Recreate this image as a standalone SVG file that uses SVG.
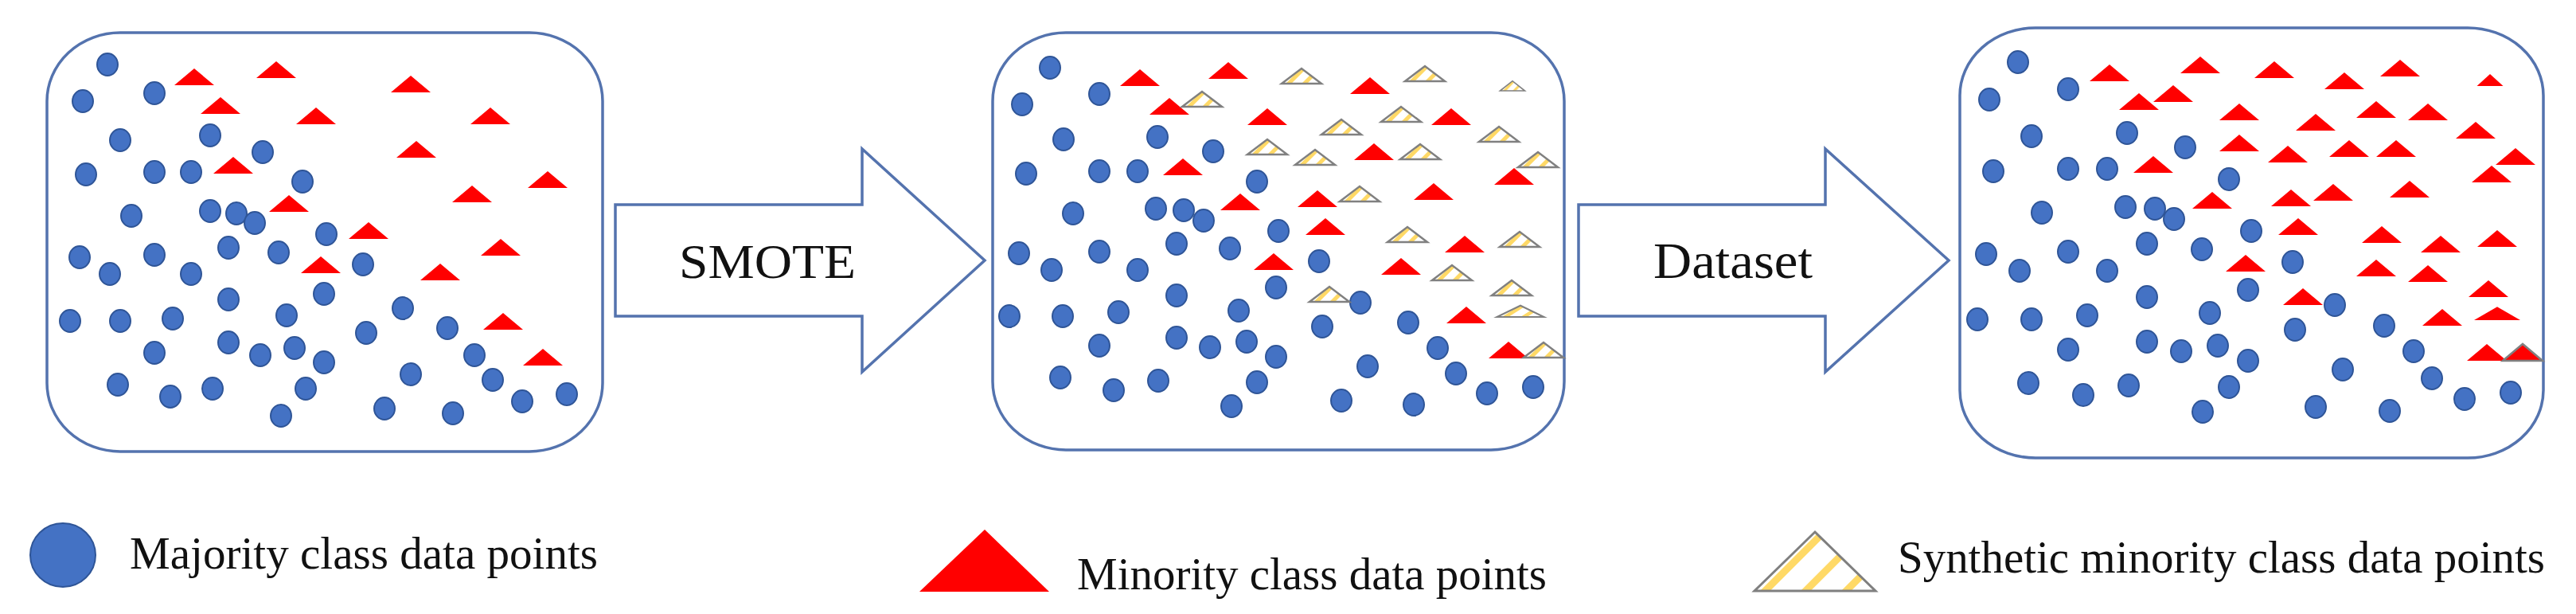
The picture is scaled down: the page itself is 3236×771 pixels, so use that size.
<svg xmlns="http://www.w3.org/2000/svg" xmlns:xlink="http://www.w3.org/1999/xlink" width="3236" height="771" viewBox="0 0 3236 771">
<style>
.box{fill:#fff;stroke:#5473AE;stroke-width:3.5}
.arrow{fill:#fff;stroke:#5473AE;stroke-width:3.5;stroke-linejoin:miter}
.lbl{font-family:"Liberation Serif","Times New Roman",serif;fill:#111}
.dots use{fill:#4472C4;stroke:#2F5597;stroke-width:2}
.reds use{fill:#FF0000}
.syns use{fill:url(#stripesS);stroke:#808080;stroke-width:2.5}
</style>
<defs>
<ellipse id="dot" cx="0" cy="0" rx="13" ry="14"/>
<path id="tri" d="M-25,0 L0,-21 L25,0 Z"/>
<path id="syn" d="M-25,0 L0,-19 L25,0 Z"/>
<pattern id="stripesS" patternUnits="userSpaceOnUse" width="14" height="14" patternTransform="rotate(45)">
<rect width="14" height="14" fill="#fff"/><rect width="5" height="14" fill="#FFD966"/>
</pattern>
<pattern id="stripesL" patternUnits="userSpaceOnUse" width="36" height="36" patternTransform="rotate(45)">
<rect width="36" height="36" fill="#fff"/><rect width="9" height="36" fill="#FFD966"/>
</pattern>
</defs>
<rect width="3236" height="771" fill="#fff"/>

<g id="panel1">
<rect class="box" x="59" y="41" width="698" height="526" rx="92" ry="86"/>
<g class="dots">
<use href="#dot" x="135" y="81"/><use href="#dot" x="104" y="127"/><use href="#dot" x="194" y="117"/><use href="#dot" x="151" y="176"/><use href="#dot" x="264" y="170"/><use href="#dot" x="330" y="191"/><use href="#dot" x="108" y="219"/><use href="#dot" x="194" y="216"/><use href="#dot" x="240" y="216"/><use href="#dot" x="380" y="228"/><use href="#dot" x="165" y="271"/><use href="#dot" x="264" y="265"/><use href="#dot" x="297" y="268"/><use href="#dot" x="320" y="280"/><use href="#dot" x="410" y="294"/><use href="#dot" x="100" y="323"/><use href="#dot" x="194" y="320"/><use href="#dot" x="287" y="311"/><use href="#dot" x="350" y="317"/><use href="#dot" x="138" y="344"/><use href="#dot" x="240" y="344"/><use href="#dot" x="456" y="332"/><use href="#dot" x="407" y="369"/><use href="#dot" x="287" y="376"/><use href="#dot" x="506" y="387"/><use href="#dot" x="88" y="403"/><use href="#dot" x="151" y="403"/><use href="#dot" x="217" y="400"/><use href="#dot" x="360" y="396"/><use href="#dot" x="460" y="418"/><use href="#dot" x="562" y="412"/><use href="#dot" x="287" y="430"/><use href="#dot" x="194" y="443"/><use href="#dot" x="327" y="446"/><use href="#dot" x="370" y="437"/><use href="#dot" x="407" y="455"/><use href="#dot" x="596" y="446"/><use href="#dot" x="516" y="470"/><use href="#dot" x="619" y="477"/><use href="#dot" x="148" y="483"/><use href="#dot" x="214" y="498"/><use href="#dot" x="267" y="488"/><use href="#dot" x="384" y="488"/><use href="#dot" x="712" y="495"/><use href="#dot" x="656" y="504"/><use href="#dot" x="353" y="522"/><use href="#dot" x="483" y="513"/><use href="#dot" x="569" y="519"/>
</g>
<g class="reds">
<use href="#tri" x="244" y="107"/><use href="#tri" x="347" y="98"/><use href="#tri" x="516" y="116"/><use href="#tri" x="277" y="143"/><use href="#tri" x="397" y="156"/><use href="#tri" x="616" y="156"/><use href="#tri" x="523" y="198"/><use href="#tri" x="293" y="218"/><use href="#tri" x="688" y="236"/><use href="#tri" x="593" y="254"/><use href="#tri" x="363" y="266"/><use href="#tri" x="463" y="300"/><use href="#tri" x="629" y="321"/><use href="#tri" x="403" y="343"/><use href="#tri" x="553" y="352"/><use href="#tri" x="632" y="414"/><use href="#tri" x="682" y="459"/>
</g>
</g>

<g id="panel2">
<rect class="box" x="1247" y="41" width="718" height="524" rx="92" ry="86"/>
<g class="dots">
<use href="#dot" x="1319" y="85"/><use href="#dot" x="1284" y="131"/><use href="#dot" x="1381" y="118"/><use href="#dot" x="1336" y="175"/><use href="#dot" x="1454" y="172"/><use href="#dot" x="1524" y="190"/><use href="#dot" x="1289" y="218"/><use href="#dot" x="1381" y="215"/><use href="#dot" x="1429" y="215"/><use href="#dot" x="1579" y="228"/><use href="#dot" x="1348" y="268"/><use href="#dot" x="1452" y="262"/><use href="#dot" x="1487" y="264"/><use href="#dot" x="1512" y="277"/><use href="#dot" x="1606" y="290"/><use href="#dot" x="1280" y="318"/><use href="#dot" x="1381" y="316"/><use href="#dot" x="1478" y="306"/><use href="#dot" x="1545" y="312"/><use href="#dot" x="1321" y="339"/><use href="#dot" x="1429" y="339"/><use href="#dot" x="1657" y="328"/><use href="#dot" x="1603" y="361"/><use href="#dot" x="1478" y="371"/><use href="#dot" x="1709" y="380"/><use href="#dot" x="1268" y="397"/><use href="#dot" x="1335" y="397"/><use href="#dot" x="1405" y="392"/><use href="#dot" x="1556" y="390"/><use href="#dot" x="1661" y="410"/><use href="#dot" x="1769" y="405"/><use href="#dot" x="1478" y="424"/><use href="#dot" x="1381" y="434"/><use href="#dot" x="1520" y="436"/><use href="#dot" x="1566" y="429"/><use href="#dot" x="1603" y="448"/><use href="#dot" x="1806" y="437"/><use href="#dot" x="1718" y="460"/><use href="#dot" x="1829" y="469"/><use href="#dot" x="1332" y="474"/><use href="#dot" x="1399" y="490"/><use href="#dot" x="1455" y="478"/><use href="#dot" x="1579" y="480"/><use href="#dot" x="1926" y="486"/><use href="#dot" x="1868" y="494"/><use href="#dot" x="1547" y="510"/><use href="#dot" x="1685" y="503"/><use href="#dot" x="1776" y="508"/>
</g>
<g class="reds">
<use href="#tri" x="1432" y="108"/><use href="#tri" x="1543" y="99"/><use href="#tri" x="1721" y="118"/><use href="#tri" x="1469" y="144"/><use href="#tri" x="1592" y="157"/><use href="#tri" x="1823" y="157"/><use href="#tri" x="1726" y="201"/><use href="#tri" x="1486" y="220"/><use href="#tri" x="1902" y="232"/><use href="#tri" x="1801" y="251"/><use href="#tri" x="1558" y="264"/><use href="#tri" x="1655" y="260"/><use href="#tri" x="1665" y="295"/><use href="#tri" x="1840" y="317"/><use href="#tri" x="1600" y="339"/><use href="#tri" x="1760" y="345"/><use href="#tri" x="1842" y="406"/><use href="#tri" x="1895" y="450"/>
</g>
<g class="syns">
<use href="#syn" x="1635" y="105"/><use href="#syn" x="1790" y="102"/><use href="#syn" transform="translate(1900,114) scale(0.62,0.65)"/><use href="#syn" x="1510" y="134"/><use href="#syn" x="1760" y="153"/><use href="#syn" x="1685" y="169"/><use href="#syn" x="1883" y="178"/><use href="#syn" x="1592" y="194"/><use href="#syn" x="1652" y="207"/><use href="#syn" x="1784" y="200"/><use href="#syn" x="1932" y="210"/><use href="#syn" x="1708" y="253"/><use href="#syn" x="1768" y="304"/><use href="#syn" x="1909" y="310"/><use href="#syn" x="1824" y="352"/><use href="#syn" x="1899" y="371"/><use href="#syn" x="1670" y="379"/><use href="#syn" transform="translate(1910,398) scale(1.18,0.75)"/><use href="#syn" x="1939" y="449"/>
</g>
</g>

<g id="panel3">
<rect class="box" x="2462" y="35" width="733" height="540" rx="95" ry="85"/>
<g class="dots">
<use href="#dot" x="2535" y="78"/><use href="#dot" x="2499" y="125"/><use href="#dot" x="2598" y="112"/><use href="#dot" x="2552" y="171"/><use href="#dot" x="2672" y="167"/><use href="#dot" x="2745" y="185"/><use href="#dot" x="2504" y="215"/><use href="#dot" x="2598" y="212"/><use href="#dot" x="2647" y="212"/><use href="#dot" x="2800" y="225"/><use href="#dot" x="2565" y="267"/><use href="#dot" x="2670" y="260"/><use href="#dot" x="2707" y="262"/><use href="#dot" x="2731" y="275"/><use href="#dot" x="2828" y="290"/><use href="#dot" x="2495" y="319"/><use href="#dot" x="2598" y="316"/><use href="#dot" x="2697" y="306"/><use href="#dot" x="2766" y="313"/><use href="#dot" x="2537" y="340"/><use href="#dot" x="2647" y="340"/><use href="#dot" x="2880" y="329"/><use href="#dot" x="2824" y="364"/><use href="#dot" x="2697" y="373"/><use href="#dot" x="2933" y="383"/><use href="#dot" x="2484" y="401"/><use href="#dot" x="2552" y="401"/><use href="#dot" x="2622" y="396"/><use href="#dot" x="2776" y="393"/><use href="#dot" x="2883" y="414"/><use href="#dot" x="2995" y="409"/><use href="#dot" x="2697" y="429"/><use href="#dot" x="2598" y="439"/><use href="#dot" x="2740" y="441"/><use href="#dot" x="2786" y="434"/><use href="#dot" x="2824" y="453"/><use href="#dot" x="3032" y="441"/><use href="#dot" x="2943" y="464"/><use href="#dot" x="3055" y="475"/><use href="#dot" x="2548" y="481"/><use href="#dot" x="2617" y="496"/><use href="#dot" x="2674" y="484"/><use href="#dot" x="2800" y="486"/><use href="#dot" x="3154" y="493"/><use href="#dot" x="3096" y="501"/><use href="#dot" x="2767" y="517"/><use href="#dot" x="2909" y="511"/><use href="#dot" x="3002" y="516"/>
</g>
<g class="reds">
<use href="#tri" x="2650" y="102"/><use href="#tri" x="2764" y="92"/><use href="#tri" x="2857" y="98"/><use href="#tri" x="3015" y="96"/><use href="#tri" x="2945" y="112"/><use href="#tri" transform="translate(3128,108) scale(0.66,0.72)"/><use href="#tri" x="2730" y="128"/><use href="#tri" x="2687" y="138"/><use href="#tri" x="2813" y="151"/><use href="#tri" x="2985" y="148"/><use href="#tri" x="3050" y="151"/><use href="#tri" x="2909" y="164"/><use href="#tri" x="3110" y="174"/><use href="#tri" x="2813" y="190"/><use href="#tri" x="2874" y="204"/><use href="#tri" x="2951" y="197"/><use href="#tri" x="3010" y="197"/><use href="#tri" x="3160" y="207"/><use href="#tri" x="2705" y="217"/><use href="#tri" x="3130" y="229"/><use href="#tri" x="2779" y="262"/><use href="#tri" x="2878" y="259"/><use href="#tri" x="2931" y="252"/><use href="#tri" x="3027" y="248"/><use href="#tri" x="2887" y="295"/><use href="#tri" x="2992" y="305"/><use href="#tri" x="3137" y="310"/><use href="#tri" x="3066" y="317"/><use href="#tri" x="2821" y="341"/><use href="#tri" x="2985" y="347"/><use href="#tri" x="3050" y="354"/><use href="#tri" x="3126" y="373"/><use href="#tri" x="2893" y="383"/><use href="#tri" x="3068" y="409"/><use href="#tri" transform="translate(3137,402) scale(1.16,0.8)"/><use href="#tri" x="3124" y="453"/><use href="#tri" x="3169" y="453" stroke="#808080" stroke-width="2.5"/>
</g>
</g>

<g id="connectors">
<g id="arrow-smote">
<polygon class="arrow" points="773,257 1083,257 1083,187 1237,327 1083,467 1083,397 773,397"/>
<text class="lbl" x="853" y="349" font-size="62" textLength="222" lengthAdjust="spacingAndGlyphs">SMOTE</text>
</g>
<g id="arrow-dataset">
<polygon class="arrow" points="1983,257 2293,257 2293,187 2448,327 2293,467 2293,397 1983,397"/>
<text class="lbl" x="2077" y="349" font-size="63" textLength="200" lengthAdjust="spacingAndGlyphs">Dataset</text>
</g>
</g>

<g id="legend">
<g id="legend-majority">
<ellipse cx="79" cy="697" rx="41" ry="40" fill="#4472C4" stroke="#2F5597" stroke-width="2"/>
<text class="lbl" x="163" y="714" font-size="57" textLength="588" lengthAdjust="spacingAndGlyphs">Majority class data points</text>
</g>
<g id="legend-minority">
<polygon points="1155,743 1318,743 1237,665" fill="#FF0000"/>
<text class="lbl" x="1353" y="740" font-size="57" textLength="590" lengthAdjust="spacingAndGlyphs">Minority class data points</text>
</g>
<g id="legend-synthetic">
<polygon points="2204,742 2356,742 2280,668" fill="url(#stripesL)" stroke="#7F7F7F" stroke-width="3"/>
<text class="lbl" x="2384" y="719" font-size="57" textLength="813" lengthAdjust="spacingAndGlyphs">Synthetic minority class data points</text>
</g>
</g>
</svg>
